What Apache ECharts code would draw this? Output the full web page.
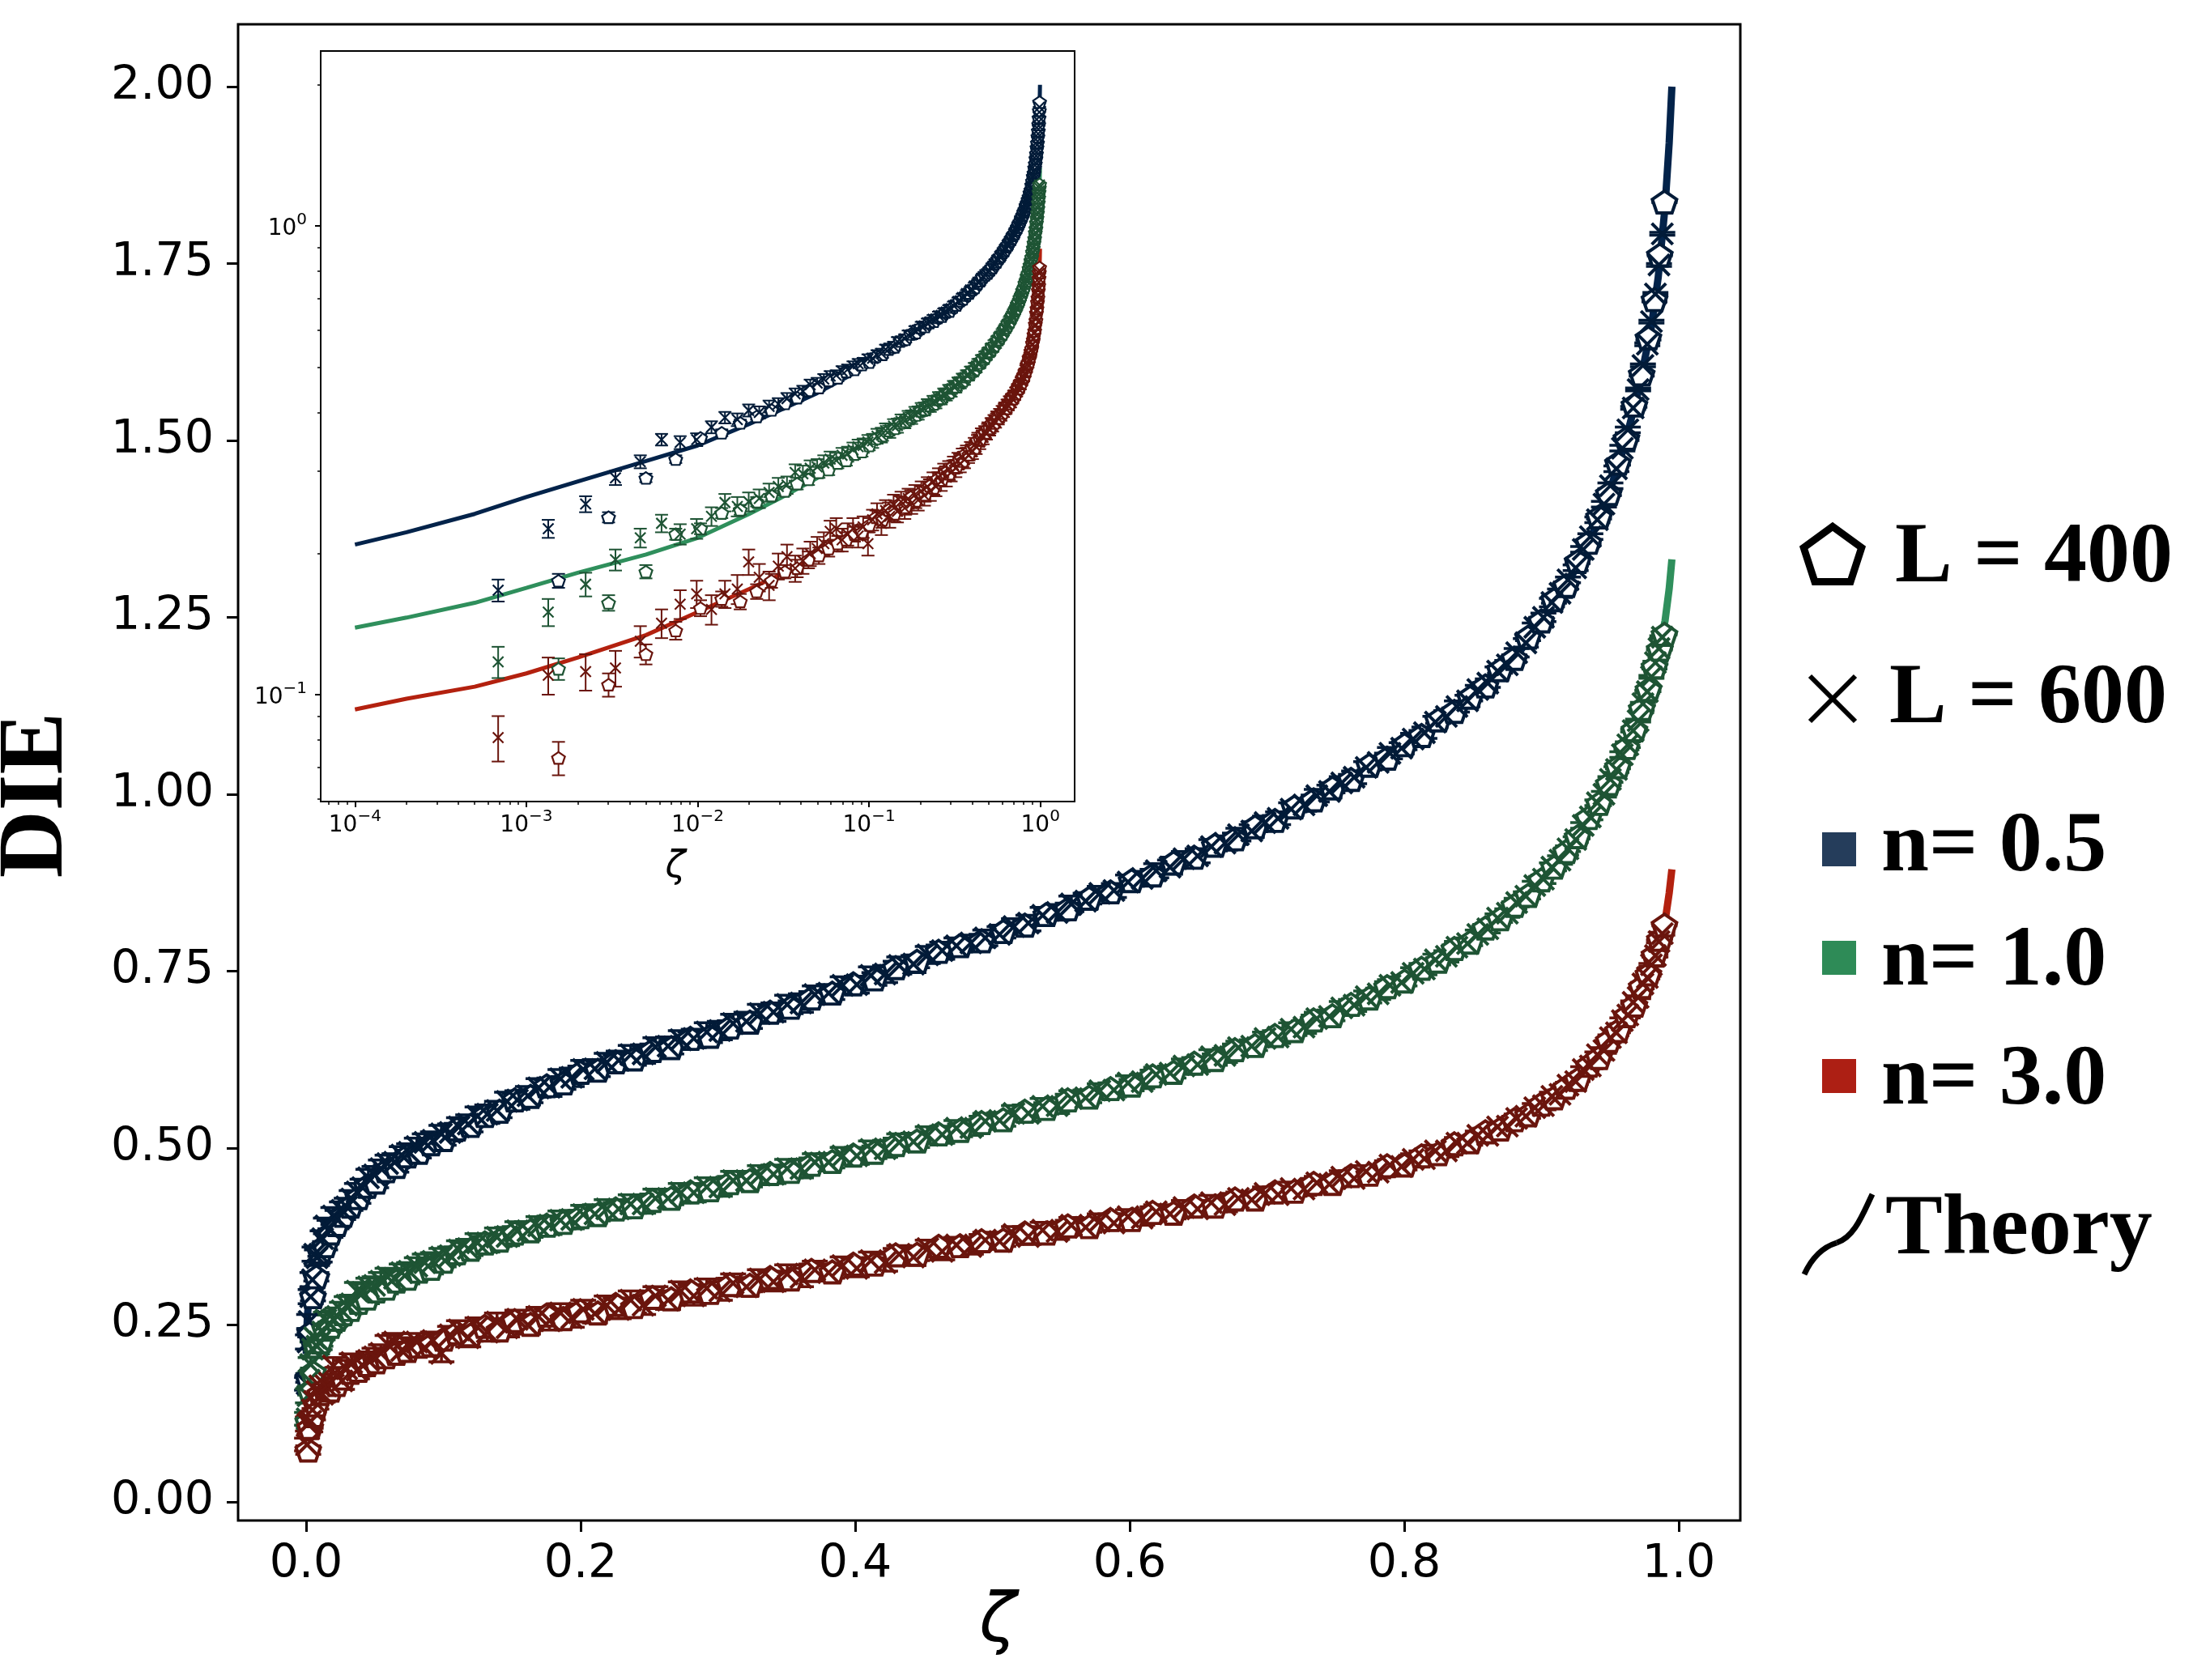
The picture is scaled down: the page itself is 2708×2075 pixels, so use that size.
<!DOCTYPE html>
<html>
<head>
<meta charset="utf-8">
<script src="https://cdn.jsdelivr.net/npm/echarts@6/dist/echarts.min.js"></script>
<style>
  html, body { margin: 0; padding: 0; background: #fff; }
  #main { width: 2708px; height: 2075px; }
</style>
</head>
<body>
<div id="main"></div>
<script>
// ---- data ----
var zetaTheory = [0.0001, 0.0002, 0.0005, 0.001, 0.002, 0.005, 0.01, 0.02, 0.03, 0.05, 0.07,
  0.1, 0.15, 0.2, 0.25, 0.3, 0.35, 0.4, 0.45, 0.5, 0.55, 0.6, 0.65, 0.7, 0.75, 0.8, 0.85,
  0.88, 0.9, 0.92, 0.94, 0.95, 0.96, 0.97, 0.98, 0.985, 0.99, 0.993, 0.995];
var theoryN05 = [0.209, 0.222, 0.243, 0.264, 0.285, 0.315, 0.340, 0.378, 0.404, 0.440, 0.470,
  0.505, 0.555, 0.598, 0.630, 0.660, 0.695, 0.728, 0.762, 0.796, 0.833, 0.872, 0.912, 0.957, 1.007, 1.065, 1.135,
  1.19, 1.245, 1.30, 1.38, 1.43, 1.49, 1.565, 1.66, 1.73, 1.83, 1.92, 2.0];
var theoryN10 = [0.139, 0.146, 0.157, 0.169, 0.182, 0.199, 0.216, 0.243, 0.262, 0.290, 0.312,
  0.340, 0.372, 0.398, 0.420, 0.442, 0.464, 0.486, 0.510, 0.535, 0.560, 0.587, 0.617, 0.650, 0.688, 0.735, 0.792,
  0.838, 0.875, 0.92, 0.98, 1.015, 1.055, 1.10, 1.16, 1.20, 1.245, 1.29, 1.332];
var theoryN30 = [0.093, 0.098, 0.104, 0.111, 0.120, 0.134, 0.150, 0.168, 0.180, 0.197, 0.212,
  0.231, 0.250, 0.265, 0.283, 0.300, 0.316, 0.332, 0.350, 0.368, 0.384, 0.399, 0.415, 0.432, 0.452, 0.476, 0.510,
  0.535, 0.558, 0.585, 0.625, 0.650, 0.678, 0.712, 0.755, 0.785, 0.82, 0.86, 0.894];

// L = 400 (pentagons)
var zetaL400 = [0.001541, 0.003020, 0.004988, 0.007445, 0.01039, 0.01382, 0.01772, 0.02210, 0.02696, 0.03228,
  0.03806, 0.04430, 0.05099, 0.05812, 0.06568, 0.07368, 0.08210, 0.09093, 0.1002, 0.1098,
  0.1198, 0.1302, 0.1409, 0.1520, 0.1635, 0.1753, 0.1874, 0.1998, 0.2125, 0.2255,
  0.2388, 0.2523, 0.2660, 0.2800, 0.2942, 0.3087, 0.3233, 0.3380, 0.3530, 0.3681,
  0.3833, 0.3986, 0.4140, 0.4295, 0.4451, 0.4608, 0.4764, 0.4921, 0.5079, 0.5236,
  0.5392, 0.5549, 0.5705, 0.5860, 0.6014, 0.6167, 0.6319, 0.6470, 0.6620, 0.6767,
  0.6913, 0.7058, 0.7200, 0.7340, 0.7477, 0.7612, 0.7745, 0.7875, 0.8002, 0.8126,
  0.8247, 0.8365, 0.8480, 0.8591, 0.8698, 0.8802, 0.8902, 0.8998, 0.9091, 0.9179,
  0.9263, 0.9343, 0.9419, 0.9490, 0.9557, 0.9619, 0.9677, 0.9730, 0.9779, 0.9823,
  0.9862, 0.9896];
var dieN05L400 = [0.175, 0.239, 0.290, 0.318, 0.353, 0.362, 0.380, 0.392, 0.405, 0.418,
  0.430, 0.446, 0.452, 0.468, 0.474, 0.489, 0.494, 0.506, 0.512, 0.527,
  0.532, 0.546, 0.552, 0.568, 0.573, 0.588, 0.592, 0.607, 0.610, 0.622,
  0.626, 0.638, 0.642, 0.655, 0.658, 0.671, 0.678, 0.692, 0.699, 0.712,
  0.719, 0.732, 0.739, 0.755, 0.764, 0.778, 0.786, 0.793, 0.806, 0.815,
  0.830, 0.838, 0.853, 0.862, 0.878, 0.886, 0.903, 0.911, 0.928, 0.937,
  0.954, 0.963, 0.982, 0.992, 1.009, 1.021, 1.041, 1.051, 1.070, 1.083,
  1.105, 1.117, 1.137, 1.153, 1.176, 1.192, 1.222, 1.245, 1.275, 1.295,
  1.329, 1.356, 1.392, 1.425, 1.468, 1.503, 1.550, 1.594, 1.645, 1.699,
  1.762, 1.837];
var dieN10L400 = [0.1135, 0.157, 0.183, 0.220, 0.226, 0.244, 0.248, 0.258, 0.266, 0.272,
  0.282, 0.288, 0.298, 0.302, 0.312, 0.316, 0.326, 0.330, 0.340, 0.352,
  0.357, 0.366, 0.370, 0.380, 0.383, 0.391, 0.395, 0.403, 0.406, 0.414,
  0.417, 0.426, 0.429, 0.438, 0.441, 0.451, 0.454, 0.464, 0.467, 0.477,
  0.481, 0.490, 0.494, 0.505, 0.510, 0.520, 0.525, 0.536, 0.540, 0.552,
  0.556, 0.568, 0.572, 0.584, 0.589, 0.602, 0.607, 0.620, 0.625, 0.639,
  0.645, 0.659, 0.666, 0.681, 0.687, 0.703, 0.712, 0.728, 0.736, 0.754,
  0.764, 0.782, 0.791, 0.811, 0.824, 0.843, 0.857, 0.879, 0.897, 0.919,
  0.940, 0.967, 0.987, 1.015, 1.039, 1.066, 1.091, 1.121, 1.148, 1.180,
  1.205, 1.226];
var dieN30L400 = [0.0733, 0.105, 0.122, 0.137, 0.153, 0.160, 0.158, 0.166, 0.175, 0.183,
  0.186, 0.194, 0.198, 0.205, 0.210, 0.214, 0.220, 0.222, 0.230, 0.239,
  0.236, 0.248, 0.243, 0.256, 0.251, 0.264, 0.259, 0.270, 0.267, 0.279,
  0.276, 0.289, 0.287, 0.298, 0.296, 0.307, 0.306, 0.317, 0.315, 0.327,
  0.325, 0.336, 0.336, 0.349, 0.350, 0.361, 0.362, 0.369, 0.370, 0.380,
  0.380, 0.390, 0.389, 0.399, 0.399, 0.409, 0.408, 0.418, 0.418, 0.428,
  0.428, 0.438, 0.439, 0.450, 0.450, 0.461, 0.463, 0.475, 0.476, 0.489,
  0.492, 0.506, 0.509, 0.523, 0.527, 0.540, 0.547, 0.562, 0.571, 0.586,
  0.597, 0.617, 0.628, 0.652, 0.666, 0.687, 0.702, 0.728, 0.746, 0.773,
  0.795, 0.815];
var errL400 = [0.006, 0.006, 0.006, 0.006, 0.006, 0.006, 0.006, 0.006, 0.006, 0.006,
  0.008, 0.008, 0.008, 0.008, 0.008, 0.008, 0.008, 0.008, 0.008, 0.008,
  0.009, 0.009, 0.009, 0.009, 0.009, 0.009, 0.009, 0.009, 0.009, 0.009,
  0.009, 0.009, 0.009, 0.009, 0.009, 0.009, 0.009, 0.009, 0.009, 0.009,
  0.009, 0.009, 0.009, 0.009, 0.009, 0.009, 0.009, 0.009, 0.009, 0.009,
  0.008, 0.008, 0.008, 0.008, 0.008, 0.008, 0.008, 0.008, 0.008, 0.008,
  0.007, 0.007, 0.007, 0.007, 0.007, 0.007, 0.007, 0.007, 0.007, 0.007,
  0.005, 0.005, 0.005, 0.005, 0.005, 0.005, 0.005, 0.005, 0.005, 0.005,
  0.003, 0.003, 0.003, 0.003, 0.003, 0.003, 0.003, 0.003, 0.003, 0.003,
  0.001, 0.001];

// L = 600 (crosses)
var zetaL600 = [0.000685, 0.001343, 0.002219, 0.003314, 0.004626, 0.006156, 0.007902, 0.009865, 0.01204, 0.01443,
  0.01704, 0.01985, 0.02288, 0.02612, 0.02956, 0.03321, 0.03707, 0.04112, 0.04538, 0.04984,
  0.05450, 0.05935, 0.06439, 0.06963, 0.07505, 0.08067, 0.08646, 0.09244, 0.09859, 0.1049,
  0.1114, 0.1181, 0.1249, 0.1320, 0.1391, 0.1464, 0.1539, 0.1616, 0.1693, 0.1773,
  0.1853, 0.1935, 0.2019, 0.2104, 0.2190, 0.2277, 0.2365, 0.2455, 0.2545, 0.2637,
  0.2730, 0.2824, 0.2919, 0.3014, 0.3111, 0.3208, 0.3306, 0.3405, 0.3505, 0.3605,
  0.3706, 0.3807, 0.3909, 0.4012, 0.4115, 0.4218, 0.4321, 0.4425, 0.4529, 0.4634,
  0.4738, 0.4843, 0.4948, 0.5052, 0.5157, 0.5262, 0.5366, 0.5471, 0.5575, 0.5679,
  0.5782, 0.5885, 0.5988, 0.6091, 0.6193, 0.6294, 0.6395, 0.6495, 0.6595, 0.6694,
  0.6792, 0.6889, 0.6986, 0.7081, 0.7176, 0.7270, 0.7363, 0.7455, 0.7545, 0.7635,
  0.7723, 0.7810, 0.7896, 0.7981, 0.8065, 0.8147, 0.8227, 0.8307, 0.8384, 0.8461,
  0.8536, 0.8609, 0.8680, 0.8751, 0.8819, 0.8886, 0.8951, 0.9014, 0.9076, 0.9135,
  0.9193, 0.9249, 0.9304, 0.9356, 0.9407, 0.9455, 0.9502, 0.9546, 0.9589, 0.9629,
  0.9668, 0.9704, 0.9739, 0.9771, 0.9801, 0.9830, 0.9856, 0.9880];
var dieN05L600 = [0.167, 0.226, 0.255, 0.290, 0.314, 0.350, 0.345, 0.350, 0.372, 0.390,
  0.386, 0.404, 0.400, 0.412, 0.417, 0.428, 0.438, 0.444, 0.458, 0.462,
  0.471, 0.478, 0.480, 0.490, 0.494, 0.502, 0.508, 0.511, 0.520, 0.522,
  0.530, 0.534, 0.545, 0.548, 0.553, 0.566, 0.568, 0.574, 0.585, 0.586,
  0.598, 0.600, 0.611, 0.612, 0.621, 0.624, 0.632, 0.633, 0.643, 0.644,
  0.653, 0.655, 0.664, 0.666, 0.676, 0.679, 0.690, 0.692, 0.703, 0.705,
  0.717, 0.719, 0.730, 0.731, 0.744, 0.746, 0.758, 0.760, 0.773, 0.779,
  0.786, 0.790, 0.797, 0.802, 0.813, 0.818, 0.829, 0.833, 0.845, 0.849,
  0.860, 0.864, 0.876, 0.881, 0.892, 0.897, 0.909, 0.913, 0.926, 0.931,
  0.943, 0.948, 0.960, 0.966, 0.979, 0.985, 0.998, 1.004, 1.016, 1.024,
  1.038, 1.045, 1.058, 1.065, 1.078, 1.087, 1.102, 1.110, 1.124, 1.132,
  1.148, 1.157, 1.174, 1.183, 1.200, 1.214, 1.236, 1.250, 1.271, 1.284,
  1.303, 1.320, 1.346, 1.364, 1.388, 1.410, 1.436, 1.460, 1.489, 1.515,
  1.546, 1.572, 1.606, 1.636, 1.668, 1.707, 1.748, 1.792];
var dieN10L600 = [0.1175, 0.150, 0.172, 0.194, 0.216, 0.232, 0.220, 0.226, 0.240, 0.257,
  0.252, 0.258, 0.262, 0.270, 0.278, 0.280, 0.298, 0.296, 0.304, 0.306,
  0.312, 0.318, 0.316, 0.324, 0.326, 0.333, 0.338, 0.340, 0.346, 0.348,
  0.356, 0.358, 0.366, 0.366, 0.374, 0.375, 0.383, 0.383, 0.390, 0.391,
  0.398, 0.399, 0.406, 0.407, 0.414, 0.414, 0.421, 0.421, 0.429, 0.429,
  0.437, 0.437, 0.445, 0.445, 0.454, 0.454, 0.462, 0.463, 0.471, 0.471,
  0.480, 0.480, 0.489, 0.489, 0.498, 0.499, 0.508, 0.509, 0.518, 0.519,
  0.528, 0.529, 0.538, 0.539, 0.549, 0.549, 0.559, 0.560, 0.570, 0.571,
  0.581, 0.582, 0.592, 0.594, 0.604, 0.606, 0.616, 0.618, 0.629, 0.631,
  0.642, 0.644, 0.655, 0.657, 0.668, 0.671, 0.683, 0.686, 0.698, 0.702,
  0.714, 0.718, 0.730, 0.734, 0.747, 0.753, 0.766, 0.771, 0.784, 0.789,
  0.802, 0.810, 0.825, 0.832, 0.847, 0.856, 0.871, 0.880, 0.897, 0.907,
  0.923, 0.936, 0.956, 0.968, 0.988, 1.000, 1.021, 1.035, 1.056, 1.070,
  1.090, 1.104, 1.128, 1.145, 1.166, 1.186, 1.206, 1.222];
var dieN30L600 = [0.081, 0.110, 0.112, 0.114, 0.130, 0.142, 0.156, 0.164, 0.152, 0.164,
  0.168, 0.192, 0.178, 0.171, 0.188, 0.197, 0.186, 0.193, 0.200, 0.205,
  0.210, 0.223, 0.226, 0.214, 0.220, 0.226, 0.218, 0.228, 0.210, 0.236,
  0.243, 0.232, 0.247, 0.240, 0.254, 0.246, 0.258, 0.250, 0.262, 0.256,
  0.267, 0.260, 0.272, 0.266, 0.278, 0.272, 0.285, 0.278, 0.291, 0.285,
  0.298, 0.291, 0.302, 0.298, 0.309, 0.304, 0.315, 0.311, 0.322, 0.317,
  0.328, 0.324, 0.334, 0.330, 0.341, 0.338, 0.350, 0.346, 0.358, 0.354,
  0.363, 0.361, 0.370, 0.368, 0.378, 0.375, 0.384, 0.382, 0.391, 0.388,
  0.397, 0.394, 0.403, 0.401, 0.410, 0.407, 0.416, 0.414, 0.423, 0.420,
  0.429, 0.427, 0.436, 0.434, 0.443, 0.442, 0.451, 0.449, 0.459, 0.457,
  0.467, 0.466, 0.476, 0.474, 0.484, 0.485, 0.496, 0.496, 0.507, 0.507,
  0.518, 0.518, 0.530, 0.531, 0.542, 0.545, 0.557, 0.560, 0.573, 0.576,
  0.589, 0.594, 0.611, 0.616, 0.632, 0.638, 0.656, 0.663, 0.680, 0.688,
  0.706, 0.713, 0.732, 0.741, 0.759, 0.772, 0.792, 0.803];
var errL600 = [0.009, 0.010, 0.010, 0.010, 0.010, 0.010, 0.011, 0.011, 0.011, 0.011,
  0.012, 0.012, 0.012, 0.012, 0.012, 0.012, 0.012, 0.012, 0.012, 0.012,
  0.012, 0.012, 0.012, 0.012, 0.012, 0.012, 0.012, 0.012, 0.012, 0.012,
  0.013, 0.013, 0.013, 0.013, 0.013, 0.013, 0.013, 0.013, 0.013, 0.013,
  0.013, 0.013, 0.013, 0.013, 0.013, 0.013, 0.013, 0.013, 0.013, 0.013,
  0.013, 0.013, 0.013, 0.013, 0.013, 0.013, 0.013, 0.013, 0.013, 0.013,
  0.012, 0.012, 0.012, 0.012, 0.012, 0.012, 0.012, 0.012, 0.012, 0.012,
  0.011, 0.011, 0.011, 0.011, 0.011, 0.011, 0.011, 0.011, 0.011, 0.011,
  0.010, 0.010, 0.010, 0.010, 0.010, 0.010, 0.010, 0.010, 0.010, 0.010,
  0.009, 0.009, 0.009, 0.009, 0.009, 0.009, 0.009, 0.009, 0.009, 0.009,
  0.008, 0.008, 0.008, 0.008, 0.008, 0.008, 0.008, 0.008, 0.008, 0.008,
  0.006, 0.006, 0.006, 0.006, 0.006, 0.006, 0.006, 0.006, 0.006, 0.006,
  0.004, 0.004, 0.004, 0.004, 0.004, 0.004, 0.004, 0.004, 0.004, 0.004,
  0.002, 0.002, 0.002, 0.002, 0.002, 0.002, 0.002, 0.002];

// tick labels
var xTicks = [0, 0.2, 0.4, 0.6, 0.8, 1.0];
var yTicks = [0, 0.25, 0.5, 0.75, 1.0, 1.25, 1.5, 1.75, 2.0];
var insetXTicks = [0.0001, 0.001, 0.01, 0.1, 1];
var insetYTicks = [0.1, 1];

var legendNames = ['L = 400', 'L = 600', 'n= 0.5', 'n= 1.0', 'n= 3.0', 'Theory'];

// ---- styling ----
var groups = [
  { line: '#03234a', mark: '#021b38', patch: '#253d5b', theory: theoryN05, l400: dieN05L400, l600: dieN05L600 },
  { line: '#2f8f5c', mark: '#1e5434', patch: '#2e8b57', theory: theoryN10, l400: dieN10L400, l600: dieN10L600 },
  { line: '#b3210f', mark: '#6a150d', patch: '#ad1f14', theory: theoryN30, l400: dieN30L400, l600: dieN30L600 }
];
var pentagonPath = 'path://M0,-1 L0.9511,-0.309 L0.5878,0.809 L-0.5878,0.809 L-0.9511,-0.309 Z';
var crossPath = 'path://M-1,-1 L1,1 M1,-1 L-1,1';
var sizes = [
  { lineW: 9, pent: [30, 28.5], cross: 26, sw: 4, cap: 16, ew: 3.5 },   // main
  { lineW: 5, pent: [16, 15.2], cross: 13, sw: 2.2, cap: 8, ew: 2 }     // inset
];

function pts(xs, ys) { return xs.map(function (x, i) { return [x, ys[i]]; }); }
function errPts(xs, ys, es) { return xs.map(function (x, i) { return [x, ys[i], es[i]]; }); }

function errSeries(g, data, color, s) {
  return {
    type: 'custom', xAxisIndex: g, yAxisIndex: g, silent: true, z: 3,
    data: data, encode: { x: 0, y: 1 },
    renderItem: function (params, api) {
      var x = api.value(0), y = api.value(1), e = api.value(2);
      var lo = api.coord([x, y - e]), hi = api.coord([x, y + e]);
      var st = { stroke: color, lineWidth: s.ew, fill: null };
      return { type: 'group', children: [
        { type: 'line', shape: { x1: lo[0], y1: lo[1], x2: hi[0], y2: hi[1] }, style: st },
        { type: 'line', shape: { x1: lo[0] - s.cap, y1: lo[1], x2: lo[0] + s.cap, y2: lo[1] }, style: st },
        { type: 'line', shape: { x1: hi[0] - s.cap, y1: hi[1], x2: hi[0] + s.cap, y2: hi[1] }, style: st }
      ] };
    }
  };
}

var series = [];
[0, 1].forEach(function (g) {
  var s = sizes[g];
  groups.forEach(function (grp) {
    series.push({
      type: 'line', xAxisIndex: g, yAxisIndex: g, silent: true, z: 2,
      data: pts(zetaTheory, grp.theory), symbol: 'none', showSymbol: false,
      lineStyle: { color: grp.line, width: s.lineW }
    });
  });
  groups.forEach(function (grp) {
    series.push(errSeries(g, errPts(zetaL400, grp.l400, errL400), grp.mark, s));
    series.push({
      type: 'scatter', xAxisIndex: g, yAxisIndex: g, silent: true, z: 4,
      data: pts(zetaL400, grp.l400), symbol: pentagonPath, symbolSize: s.pent, symbolKeepAspect: true,
      itemStyle: { color: '#fff', borderColor: grp.mark, borderWidth: s.sw, opacity: 1 }
    });
    series.push(errSeries(g, errPts(zetaL600, grp.l600, errL600), grp.mark, s));
    series.push({
      type: 'scatter', xAxisIndex: g, yAxisIndex: g, silent: true, z: 4,
      data: pts(zetaL600, grp.l600), symbol: crossPath, symbolSize: s.cross,
      itemStyle: { color: 'rgba(0,0,0,0)', borderColor: grp.mark, borderWidth: s.sw, opacity: 1 }
    });
  });
});

// minor ticks for the log inset
var minorX = [], minorY = [];
for (var e = -5; e <= 0; e++) {
  for (var k = 2; k <= 9; k++) {
    var v = k * Math.pow(10, e);
    if (v > Math.pow(10, -4.2) && v < Math.pow(10, 0.2)) minorX.push(v);
    if (v > Math.pow(10, -1.228) && v < Math.pow(10, 0.373)) minorY.push(v);
  }
}

function powLabel(v) {
  var p = Math.round(Math.log(v) / Math.LN10);
  return '{b|10}{sup|' + (p < 0 ? '\u2212' + (-p) : p) + '}';
}
var powRich = {
  b: { fontSize: 28, fontFamily: 'DejaVu Sans', color: '#000', verticalAlign: 'bottom', lineHeight: 35 },
  sup: { fontSize: 20, fontFamily: 'DejaVu Sans', color: '#000', verticalAlign: 'top', lineHeight: 35 }
};

var mainLabel = { fontSize: 57, fontFamily: 'DejaVu Sans', color: '#000' };
var noLine = { show: false, onZero: false };

var option = {
  animation: false,
  backgroundColor: '#fff',
  grid: [
    { left: 294, top: 30, width: 1855, height: 1848, show: true, borderColor: '#000', borderWidth: 3, backgroundColor: 'transparent' },
    { left: 396, top: 63, width: 931, height: 927, show: true, borderColor: '#000', borderWidth: 2, backgroundColor: '#fff' }
  ],
  xAxis: [
    { type: 'value', gridIndex: 0, position: 'bottom', min: -0.04956, max: 1.04484, splitLine: { show: false }, axisLine: noLine,
      axisTick: { length: 14, lineStyle: { width: 3, color: '#000' }, customValues: xTicks },
      axisLabel: Object.assign({ customValues: xTicks, margin: 27, formatter: function (v) { return v.toFixed(1); } }, mainLabel) },
    { type: 'log', gridIndex: 1, position: 'bottom', min: Math.pow(10, -4.2), max: Math.pow(10, 0.2), splitLine: { show: false }, axisLine: noLine,
      axisTick: { length: 7, lineStyle: { width: 2, color: '#000' }, customValues: insetXTicks },
      axisLabel: { customValues: insetXTicks, margin: 9, formatter: powLabel, rich: powRich } },
    { type: 'log', gridIndex: 1, position: 'bottom', min: Math.pow(10, -4.2), max: Math.pow(10, 0.2), splitLine: { show: false }, axisLine: noLine,
      axisTick: { length: 4, lineStyle: { width: 1.5, color: '#000' }, customValues: minorX },
      axisLabel: { show: false } }
  ],
  yAxis: [
    { type: 'value', gridIndex: 0, position: 'left', min: -0.0263, max: 2.0881, splitLine: { show: false }, axisLine: noLine,
      axisTick: { length: 14, lineStyle: { width: 3, color: '#000' }, customValues: yTicks },
      axisLabel: Object.assign({ customValues: yTicks, margin: 30, padding: [12, 0, 0, 0], formatter: function (v) { return v.toFixed(2); } }, mainLabel) },
    { type: 'log', gridIndex: 1, position: 'left', min: Math.pow(10, -1.228), max: Math.pow(10, 0.373), splitLine: { show: false }, axisLine: noLine,
      axisTick: { length: 7, lineStyle: { width: 2, color: '#000' }, customValues: insetYTicks },
      axisLabel: { customValues: insetYTicks, margin: 17, formatter: powLabel, rich: powRich } },
    { type: 'log', gridIndex: 1, position: 'left', min: Math.pow(10, -1.228), max: Math.pow(10, 0.373), splitLine: { show: false }, axisLine: noLine,
      axisTick: { length: 4, lineStyle: { width: 1.5, color: '#000' }, customValues: minorY },
      axisLabel: { show: false } }
  ],
  series: series
};

// ---- titles and legend as graphics ----
var legendFont = 'bold 106px "Liberation Serif"';
function pentagonPoints(cx, cy, r) {
  var p = [];
  for (var i = 0; i < 5; i++) {
    var a = -Math.PI / 2 + i * 2 * Math.PI / 5;
    p.push([cx + r * Math.cos(a), cy + r * Math.sin(a)]);
  }
  return p;
}
function legendText(txt, x, y) {
  return { type: 'text', x: x, y: y, style: { text: txt, font: legendFont, fill: '#000', align: 'left', verticalAlign: 'middle' } };
}
option.graphic = [
  { type: 'text', x: 46, y: 982, rotation: Math.PI / 2,
    style: { text: 'DIE', font: 'bold 115px "Liberation Serif"', fill: '#000', align: 'center', verticalAlign: 'middle' } },
  { type: 'text', x: 1232, y: 2005,
    style: { text: '\u03b6', font: 'italic 84px "DejaVu Sans"', fill: '#000', align: 'center', verticalAlign: 'middle' } },
  { type: 'text', x: 834, y: 1071,
    style: { text: '\u03b6', font: 'italic 46px "DejaVu Sans"', fill: '#000', align: 'center', verticalAlign: 'middle' } },

  { type: 'polygon', shape: { points: pentagonPoints(2263, 688, 37.6) }, style: { fill: '#fff', stroke: '#000', lineWidth: 9 } },
  legendText(legendNames[0], 2340, 691),
  { type: 'line', shape: { x1: 2235, y1: 835, x2: 2291, y2: 891 }, style: { stroke: '#000', lineWidth: 6 } },
  { type: 'line', shape: { x1: 2291, y1: 835, x2: 2235, y2: 891 }, style: { stroke: '#000', lineWidth: 6 } },
  legendText(legendNames[1], 2333, 865),
  { type: 'rect', shape: { x: 2250, y: 1028, width: 42, height: 42 }, style: { fill: groups[0].patch } },
  legendText(legendNames[2], 2323, 1048),
  { type: 'rect', shape: { x: 2250, y: 1162, width: 42, height: 42 }, style: { fill: groups[1].patch } },
  legendText(legendNames[3], 2323, 1189),
  { type: 'rect', shape: { x: 2250, y: 1308, width: 42, height: 42 }, style: { fill: groups[2].patch } },
  legendText(legendNames[4], 2323, 1336),
  { type: 'bezierCurve', shape: { x1: 2228, y1: 1574, cpx1: 2238, cpy1: 1552, cpx2: 2252, cpy2: 1540, x2: 2268, y2: 1535 },
    style: { fill: null, stroke: '#000', lineWidth: 7 } },
  { type: 'bezierCurve', shape: { x1: 2268, y1: 1535, cpx1: 2290, cpy1: 1528, cpx2: 2300, cpy2: 1500, x2: 2312, y2: 1475 },
    style: { fill: null, stroke: '#000', lineWidth: 7 } },
  legendText(legendNames[5], 2328, 1521)
];

var chart = echarts.init(document.getElementById('main'));
chart.setOption(option);
</script>
</body>
</html>
